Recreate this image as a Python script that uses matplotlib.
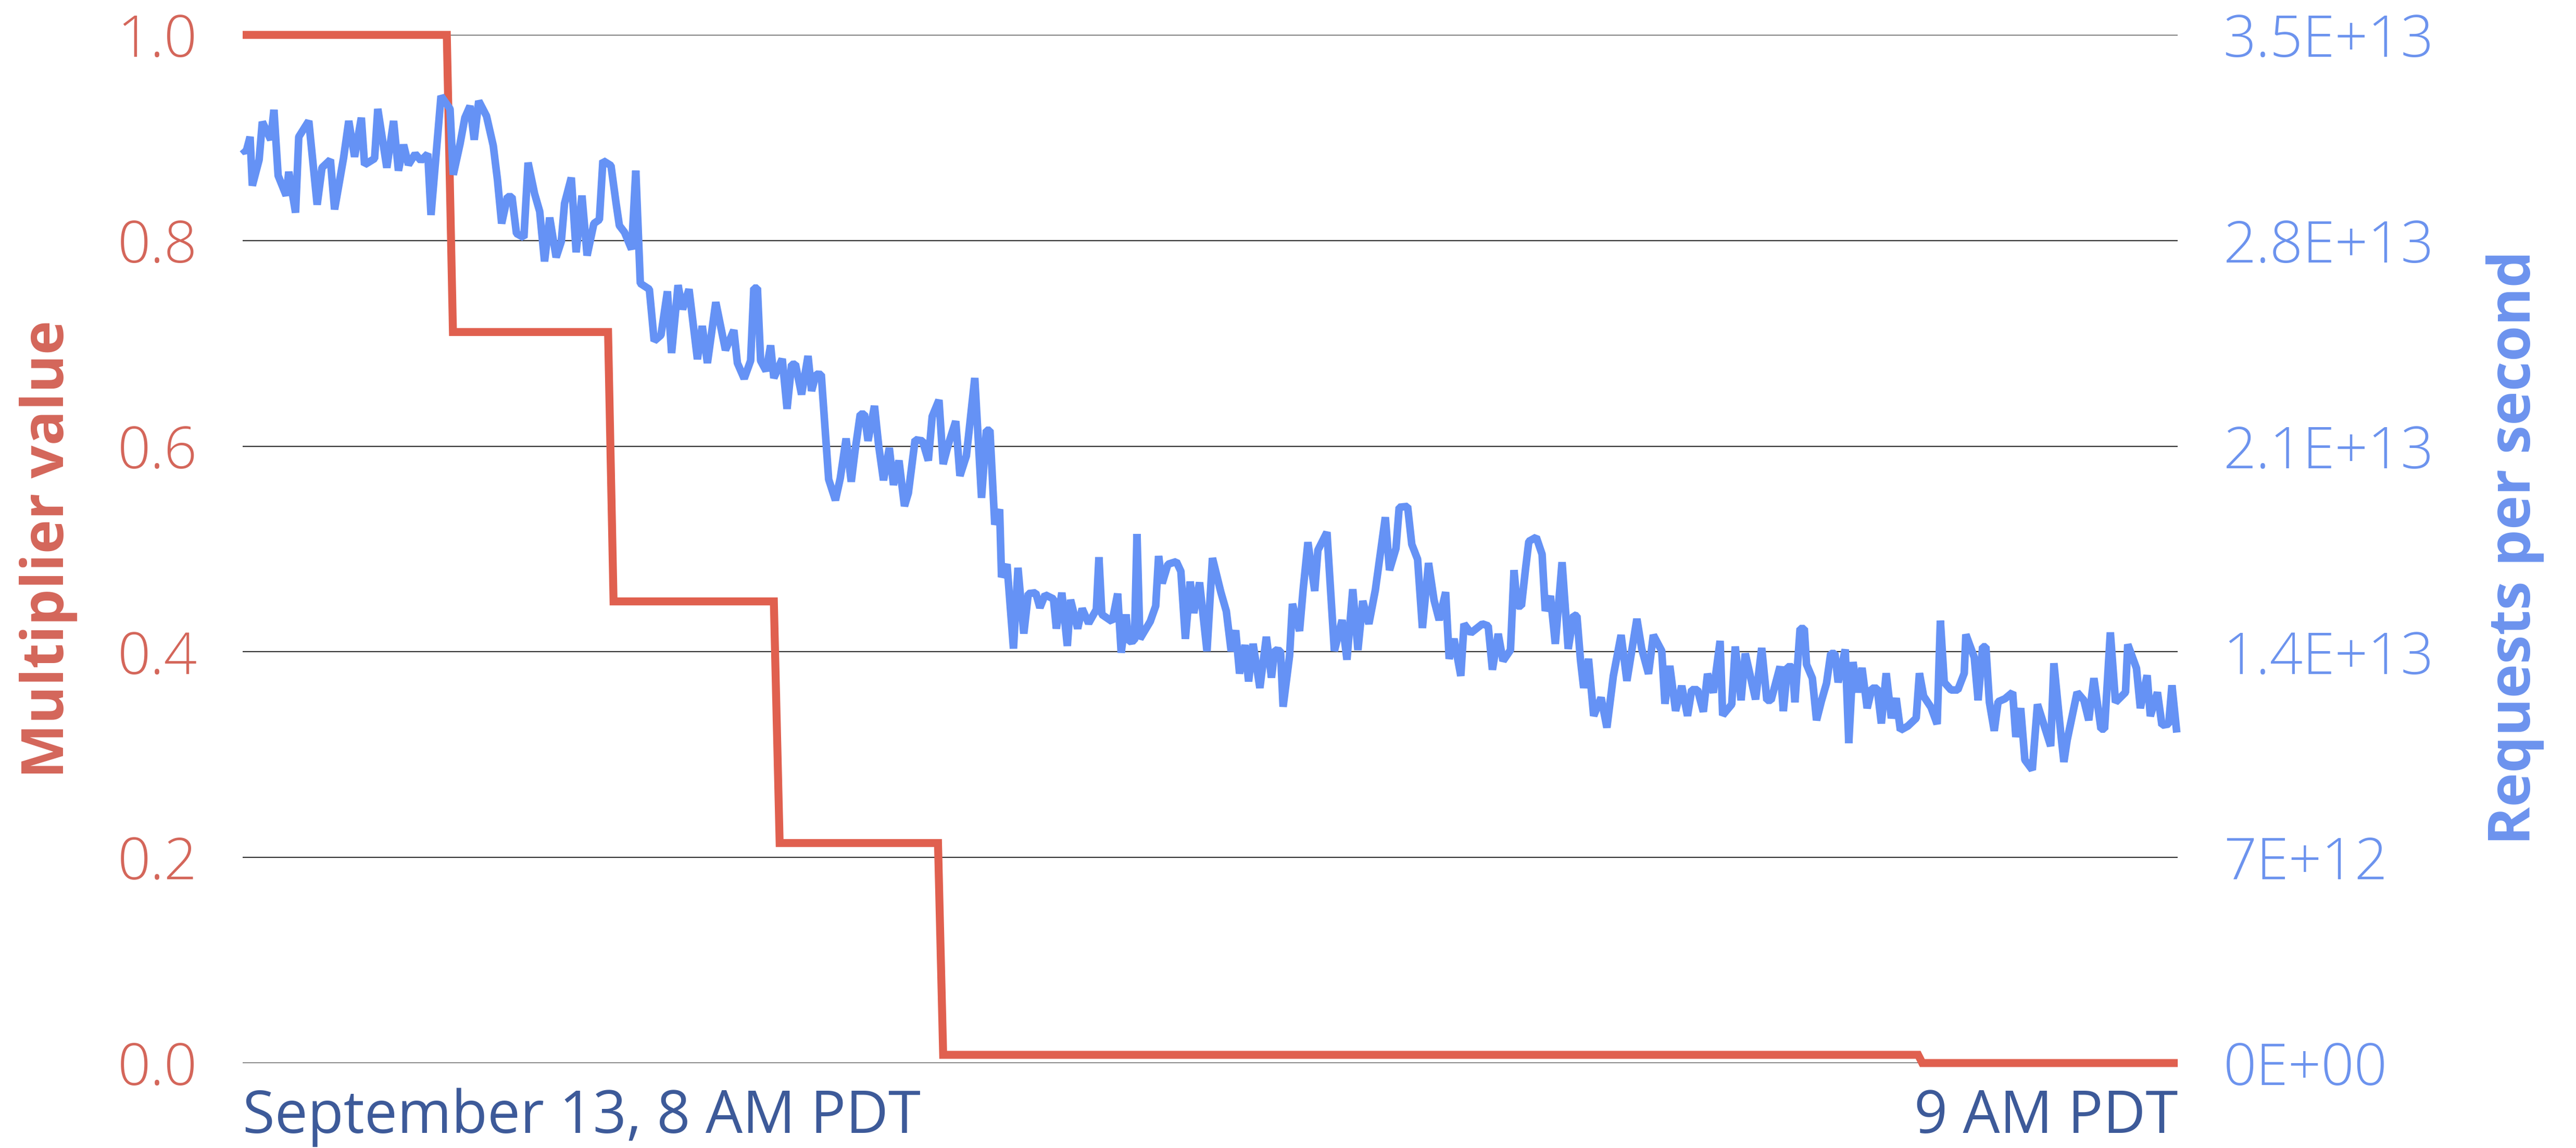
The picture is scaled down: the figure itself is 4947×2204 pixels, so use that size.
import matplotlib.pyplot as plt
import numpy as np

plt.rcParams['font.family'] = ['Open Sans', 'DejaVu Sans']

# multiplier steps (minutes after 8 AM PDT)
step_times = [0, 6.33, 6.52, 11.33, 11.50, 16.47, 16.65, 21.56, 21.72, 51.95, 52.08, 60]
multiplier = [1.0, 1.0, 0.711, 0.711, 0.449, 0.449, 0.214, 0.214, 0.008, 0.008, 0.0, 0.0]

# requests per second, in units of 1e13 in five pieces
t_a = [0.00, 0.10, 0.23, 0.30, 0.51, 0.61, 0.87, 0.97, 1.10, 1.35,
       1.43, 1.64, 1.74, 2.05, 2.31, 2.46, 2.72, 2.85, 3.13, 3.29,
       3.47, 3.68, 3.78, 4.09, 4.19, 4.47, 4.68, 4.83, 4.99, 5.14,
       5.35, 5.53, 5.74, 5.84, 6.15, 6.43, 6.53, 6.74, 6.89, 7.05,
       7.18, 7.32, 7.56, 7.77, 7.90, 8.03, 8.21, 8.35, 8.49, 8.72,
       8.85, 9.05, 9.21, 9.36, 9.52, 9.72, 9.88, 9.98, 10.19, 10.34,
       10.52, 10.68, 10.89, 11.06, 11.17, 11.42, 11.58, 11.68, 11.84, 12.06,
       12.19, 12.33, 12.61, 12.76, 12.97, 13.17, 13.30, 13.50, 13.64, 13.84,
       14.10, 14.25, 14.41, 14.67, 14.97, 15.23, 15.34]
v_a = [3.112, 3.099, 3.153, 2.987, 3.075, 3.204, 3.143, 3.245, 3.021, 2.953,
       3.034, 2.895, 3.153, 3.207, 2.922, 3.048, 3.075, 2.906, 3.082, 3.207,
       3.085, 3.218, 3.058, 3.079, 3.248, 3.048, 3.207, 3.038, 3.126, 3.058,
       3.095, 3.072, 3.095, 2.887, 3.292, 3.248, 3.024, 3.129, 3.218, 3.258,
       3.143, 3.275, 3.224, 3.123, 3.007, 2.858, 2.949, 2.949, 2.824, 2.810,
       3.065, 2.960, 2.899, 2.729, 2.878, 2.743, 2.797, 2.926, 3.014, 2.760,
       2.953, 2.749, 2.858, 2.871, 3.072, 3.055, 2.926, 2.851, 2.828, 2.770,
       3.038, 2.654, 2.634, 2.458, 2.478, 2.627, 2.417, 2.648, 2.566, 2.634,
       2.396, 2.509, 2.383, 2.590, 2.427, 2.495, 2.383]

t_b = [15.55, 15.75, 15.85, 15.96, 16.06, 16.23, 16.37, 16.47, 16.73, 16.88,
       17.02, 17.14, 17.33, 17.53, 17.64, 17.78, 17.94, 18.17, 18.38, 18.53,
       18.71, 18.87, 18.99, 19.15, 19.28, 19.39, 19.59, 19.72, 19.87, 20.05,
       20.18, 20.35, 20.52, 20.64, 20.85, 21.08, 21.26, 21.38, 21.59, 21.72,
       21.88, 22.11, 22.24, 22.44, 22.70, 22.91, 23.06, 23.17, 23.32, 23.47]
v_b = [2.330, 2.391, 2.638, 2.638, 2.391, 2.356, 2.443, 2.332, 2.397, 2.227,
       2.378, 2.379, 2.276, 2.407, 2.288, 2.345, 2.344, 1.987, 1.916, 1.991,
       2.126, 1.979, 2.086, 2.209, 2.209, 2.118, 2.237, 2.102, 1.984, 2.094,
       1.968, 2.051, 1.896, 1.940, 2.122, 2.118, 2.051, 2.201, 2.257, 2.039,
       2.106, 2.185, 1.999, 2.067, 2.332, 1.924, 2.154, 2.154, 1.833, 1.885]

t_c = [23.53, 23.70, 23.90, 24.04, 24.22, 24.36, 24.59, 24.72, 24.88, 25.14,
       25.23, 25.40, 25.57, 25.67, 25.89, 26.03, 26.23, 26.47, 26.55, 26.64,
       26.96, 27.13, 27.24, 27.39, 27.47, 27.65, 27.73, 27.82, 28.14, 28.31,
       28.40, 28.51, 28.69, 28.95, 29.09, 29.23, 29.38, 29.49, 29.67, 29.90,
       30.07, 30.33, 30.50, 30.65, 30.79, 30.91, 31.08, 31.19]
v_c = [1.654, 1.698, 1.411, 1.686, 1.462, 1.598, 1.601, 1.550, 1.594, 1.580,
       1.479, 1.601, 1.420, 1.577, 1.479, 1.547, 1.497, 1.544, 1.722, 1.527,
       1.503, 1.598, 1.397, 1.527, 1.435, 1.438, 1.801, 1.444, 1.503, 1.556,
       1.726, 1.633, 1.698, 1.707, 1.674, 1.444, 1.639, 1.532, 1.636, 1.402,
       1.719, 1.603, 1.538, 1.402, 1.473, 1.326, 1.423, 1.299]

t_d = [31.33, 31.54, 31.74, 31.90, 32.00, 32.18, 32.26, 32.46, 32.55, 32.77,
       32.88, 33.03, 33.24, 33.34, 33.62, 33.85, 34.09, 34.24, 34.42, 34.58,
       34.73, 34.92, 35.12, 35.43, 35.56, 35.76, 35.86, 36.12, 36.25, 36.43,
       36.58, 36.77, 36.94, 37.10, 37.30, 37.41, 37.56, 37.77, 37.87, 38.08,
       38.44, 38.62, 38.75, 38.93, 39.08, 39.31, 39.42, 39.52, 39.65, 39.78,
       39.88, 40.11, 40.29, 40.39, 40.55, 40.70, 40.91, 41.10, 41.27, 41.37,
       41.48, 41.58, 41.73, 41.89, 42.12, 42.30, 42.50, 42.74, 42.92, 43.23,
       43.38, 43.59, 43.74, 44.00, 44.10, 44.25, 44.43, 44.62, 44.80, 44.93,
       45.11, 45.29, 45.42, 45.60]
v_d = [1.427, 1.277, 1.451, 1.312, 1.406, 1.403, 1.213, 1.386, 1.563, 1.471,
       1.610, 1.773, 1.607, 1.746, 1.807, 1.403, 1.508, 1.373, 1.613, 1.406,
       1.573, 1.495, 1.610, 1.858, 1.678, 1.752, 1.892, 1.895, 1.766, 1.715,
       1.481, 1.702, 1.576, 1.508, 1.603, 1.376, 1.444, 1.318, 1.495, 1.464,
       1.495, 1.488, 1.339, 1.461, 1.369, 1.406, 1.678, 1.556, 1.556, 1.685,
       1.776, 1.790, 1.732, 1.539, 1.590, 1.427, 1.705, 1.410, 1.525, 1.522,
       1.373, 1.277, 1.376, 1.182, 1.244, 1.142, 1.318, 1.457, 1.301, 1.512,
       1.410, 1.325, 1.457, 1.403, 1.223, 1.352, 1.199, 1.284, 1.182, 1.271,
       1.271, 1.196, 1.325, 1.261]

t_e = [45.81, 45.89, 46.17, 46.28, 46.46, 46.59, 46.91, 47.10, 47.26, 47.39,
       47.67, 47.77, 47.90, 48.05, 48.13, 48.29, 48.42, 48.49, 48.67, 48.80,
       48.95, 49.11, 49.24, 49.37, 49.47, 49.69, 49.80, 49.93, 50.07, 50.21,
       50.37, 50.52, 50.68, 50.81, 50.96, 51.12, 51.27, 51.40, 51.63, 51.89,
       51.99, 52.12, 52.35, 52.54, 52.64, 52.76, 52.97, 53.18, 53.38, 53.43,
       53.69, 53.81, 53.95, 54.05, 54.16, 54.31, 54.43, 54.64, 54.88, 54.98,
       55.13, 55.26, 55.49, 55.65, 56.06, 56.16, 56.37, 56.47, 56.57, 56.88,
       57.09, 57.24, 57.40, 57.62, 57.73, 57.91, 58.07, 58.38, 58.45, 58.72,
       58.84, 59.05, 59.15, 59.37, 59.51, 59.72, 59.82, 59.97]
v_e = [1.437, 1.184, 1.221, 1.418, 1.235, 1.394, 1.238, 1.413, 1.235, 1.235,
       1.350, 1.198, 1.349, 1.349, 1.228, 1.479, 1.479, 1.357, 1.310, 1.167,
       1.232, 1.293, 1.394, 1.394, 1.296, 1.408, 1.089, 1.365, 1.262, 1.345,
       1.208, 1.276, 1.276, 1.156, 1.327, 1.174, 1.242, 1.133, 1.147, 1.174,
       1.327, 1.249, 1.211, 1.154, 1.506, 1.296, 1.270, 1.270, 1.327, 1.459,
       1.381, 1.235, 1.417, 1.417, 1.228, 1.131, 1.230, 1.240, 1.262, 1.110,
       1.208, 1.032, 0.998, 1.221, 1.079, 1.361, 1.126, 1.025, 1.099, 1.262,
       1.235, 1.167, 1.310, 1.137, 1.137, 1.466, 1.228, 1.262, 1.425, 1.344,
       1.208, 1.320, 1.181, 1.262, 1.150, 1.154, 1.286, 1.125]

left_ticks = [0.0, 0.2, 0.4, 0.6, 0.8, 1.0]
right_ticks = [0, 7e12, 1.4e13, 2.1e13, 2.8e13, 3.5e13]
right_labels = ['0E+00', '7E+12', '1.4E+13', '2.1E+13', '2.8E+13', '3.5E+13']
x_ticks = [0, 60]
x_labels = ['September 13, 8 AM PDT', '9 AM PDT']

RED = '#e0604f'
RED_TEXT = '#d4665a'
BLUE = '#6592f5'
BLUE_TEXT = '#6c93ee'
NAVY = '#3d5a99'

rps_t = np.concatenate([t_a, t_b, t_c, t_d, t_e])
rps_v = np.concatenate([v_a, v_b, v_c, v_d, v_e]) * 1e13

fig = plt.figure(figsize=(49.47, 22.04), dpi=100)
ax = fig.add_axes([0.0942, 0.074, 0.7512, 0.8956])
ax2 = ax.twinx()

ax.plot(step_times, multiplier, color=RED, lw=11, clip_on=False,
        solid_joinstyle='miter', solid_capstyle='butt', zorder=3)
ax2.plot(rps_t, rps_v, color=BLUE, lw=10.5, clip_on=False,
         solid_joinstyle='bevel', solid_capstyle='butt', zorder=3)

ax.set_xlim(0, 60)
ax.set_ylim(0, 1)
ax2.set_ylim(0, 3.5e13)

ax.set_yticks(left_ticks)
ax.set_yticklabels([f'{v:.1f}' for v in left_ticks])
ax.grid(axis='y', color='#333333', lw=1.6)
ax.set_axisbelow(True)
ax.tick_params(axis='y', length=0, pad=63, labelsize=80, labelcolor=RED_TEXT)

ax2.set_yticks(right_ticks)
ax2.set_yticklabels(right_labels)
ax2.tick_params(axis='y', length=0, pad=63, labelsize=80, labelcolor=BLUE_TEXT)

ax.set_xticks(x_ticks)
ax.set_xticklabels(x_labels)
ax.tick_params(axis='x', length=0, pad=34, labelsize=81, labelcolor=NAVY)
xl = ax.get_xticklabels()
xl[0].set_ha('left')
xl[1].set_ha('right')

# thin tick text like the original
for lab in ax.get_yticklabels() + ax2.get_yticklabels():
    lab.set_fontweight('light')

for a in (ax, ax2):
    for s in a.spines.values():
        s.set_visible(False)

fig.text(0.0187, 0.5218, 'Multiplier value', rotation=90, ha='center', va='center',
         fontsize=80, fontweight='bold', color=RED_TEXT)
fig.text(0.9763, 0.5227, 'Requests per second', rotation=90, ha='center', va='center',
         fontsize=80, fontweight='bold', color=BLUE_TEXT)

fig.savefig('out.png', dpi=100)
